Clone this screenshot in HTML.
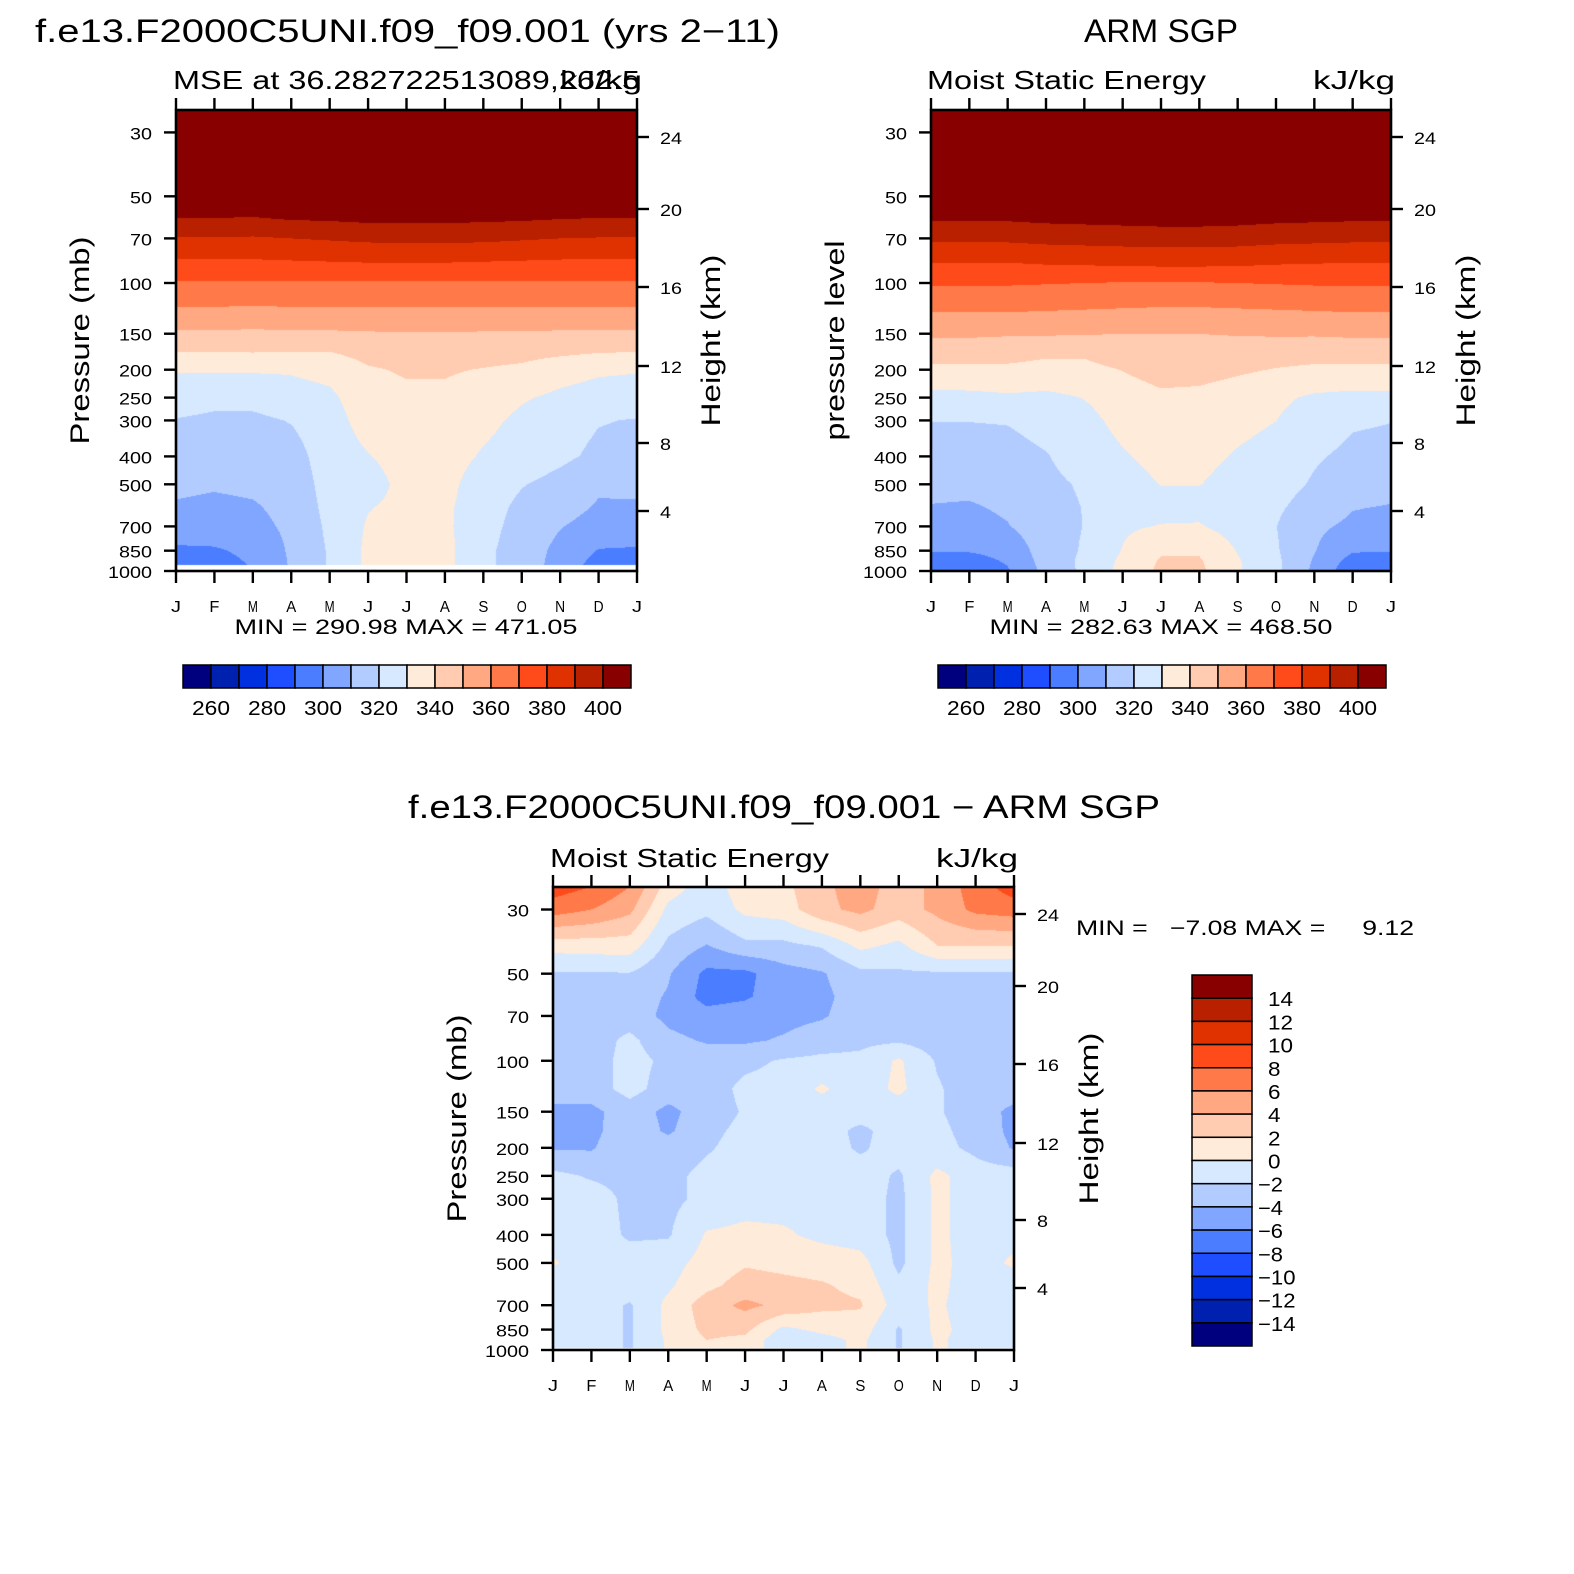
<!DOCTYPE html>
<html><head><meta charset="utf-8">
<style>
html,body{margin:0;padding:0;background:#fff;}
#root{position:relative;width:1574px;height:1574px;overflow:hidden;background:#fff;}
canvas{position:absolute;}
svg{position:absolute;left:0;top:0;}
text{font-family:"Liberation Sans",sans-serif;fill:#000;}
</style></head>
<body>
<div id="root">
<canvas id="c1" width="461" height="461" style="left:176px;top:110px"></canvas>
<canvas id="c2" width="460" height="461" style="left:931px;top:110px"></canvas>
<canvas id="c3" width="461" height="463" style="left:553px;top:887px"></canvas>
<svg id="s" width="1574" height="1574"></svg>
</div>
<script>
const pressureLevels=[25,30,40,50,60,70,85,100,125,150,175,200,250,300,400,500,600,700,850,925,1000];
const monthLabels=["J","F","M","A","M","J","J","A","S","O","N","D","J"];
const pressureTicks=[30,50,70,100,150,200,250,300,400,500,700,850,1000];
const heightTicks=["24","20","16","12","8","4"];
const fullColors=["#00007f","#0020b0","#0030e0","#1e4eff","#4a7dff","#80a6ff","#b2ccff","#d6e9ff","#ffebd9","#ffcbb1","#ffa882","#ff7a48","#ff4a1a","#e03200","#b82000","#880000"];
const fullBarLabels=["260","280","300","320","340","360","380","400"];
const diffBarLabels=["14","12","10","8","6","4","2","0","−2","−4","−6","−8","−10","−12","−14"];
const r13=v=>[v,v,v,v,v,v,v,v,v,v,v,v,v];
const modelGrid=[
r13(480),r13(455),r13(425),r13(410),
[399.5,399.5,399,400.5,401,402,402,402,401.5,401,400,399.5,399.5],
[389.5,389.5,389,390,391,392,392.5,392.5,392,391,390,389.5,389.5],
[378.5,378.5,378.5,379,379.5,380,380,380,379.5,379,378.5,378.5,378.5],
r13(369),
[358.5,358.5,358,358.5,358.5,358.5,358.5,358.5,358.5,358.5,358.5,358.5,358.5],
[348.5,348.5,348,348.5,348.5,349,349.5,349.5,349,349,348.5,348.5,348.5],
[339.5,339.6,339.8,339.3,339.5,343,345,345,344,343,341.5,340,339.5],
[330.8,330.8,331,331,333,339,341,341,339.5,338,334,331.5,330.8],
[325,323,323,326,328,336,338,338,335,331,328,326,325],
[319.5,318,318,320.5,326,334,336,336,332.5,328,324,320.5,319.5],
[315.5,314.5,315,316,325,329.5,334,334,329,325.5,322,318,317],
[312,311,312,314,324,326,333,333,325,320.5,317,311.5,312],
[309,308,309,313,323,329.5,332.5,332,324,318,314,309,309],
[305,305,307,312,322,331,332,332,323,317,310.5,306,305.5],
[298.5,299,302,311.5,321,332,333,333,322,316,307,299.5,299],
[296,297,301,311,321,332,333,333,322,316,306,297,296],
[294,295,300,311,321,332,333,333,322,316,305,295,294]];
const obsGrid=[
r13(480),r13(455),r13(425),r13(410),
[401,401,401,402,402.5,403,403.5,403.5,403,402,401.5,401,401],
[392,392,392,393,393.5,394,394.5,394.5,394,393,392.5,392,392],
[380,380,380,381,381.5,382,382.5,382.5,382,381,380.5,380,380],
[371,371,371,370.5,370,369.5,369.5,369.5,370,370.5,371,371,371],
[360.5,360.5,360.5,360,359.5,359,358.5,358.5,359,359.5,360,360.5,360.5],
[351.5,351.5,351,351,350.5,350,350,350,350.5,351,351,351.5,351.5],
[344.5,344.5,343.5,341.5,341.5,346,347.5,347.5,346,344.5,344,344.5,344.5],
[337.5,337.5,338,337,337,340.3,344,343.5,341.5,339.5,338,337.5,337.5],
[327,327.5,328.5,327.8,330.3,335,338,337.5,335,332,328.5,327.5,327.5],
[320.2,320.2,320.5,323,327,333,336,335.5,333,330.1,325,321,320.2],
[316.5,316,317,319.5,324,329,333,333,329,326,321,318,317.5],
[313,312.5,315,318,321,326,330.3,330.3,326,323.5,319,314.5,313],
[309.5,309,311.5,317,320.3,325,327,327,325,321.5,316,310.5,309.5],
[306.5,306.5,309.5,316,320.2,328.5,330.5,330.8,326,320.2,312,308,306.5],
[300.5,300.8,303,315,321,330.5,339,339,329.5,321,310.5,301,300.5],
[294,296,301,314,322,332,341,341,331,322,309,296,294],
[290.5,293,299,313,322,333,342,342,331,322,308,293,290.5]];
const diffGrid=[
[9,8,6,1,-1,1,1.5,3.5,5,3,4.5,7,9],
[7,6,4.5,-0.5,-1.5,0.5,1,3.5,4.5,3,4.5,6.5,7],
[0.8,1,1,-2.5,-4.1,-2.5,-2.5,-1.8,0.5,-0.5,2,2,2],
[-2.2,-2.2,-2.1,-3.8,-6.5,-6.5,-4.8,-4.2,-2.5,-2.3,-2.3,-2.3,-2.3],
[-3,-3,-3,-4.2,-6.8,-6.3,-4.8,-4.5,-3,-3,-3,-3,-3],
[-3,-3,-3,-4.5,-5.2,-4.8,-4.6,-4.2,-3,-3,-3,-3,-3],
[-3,-3,-1.5,-3.5,-4.2,-4.3,-3.8,-3,-2.5,-2.3,-3,-3,-3],
[-3,-3,-1.2,-2.5,-3,-2.5,-1.8,-1.5,-1.5,0.3,-2.2,-3,-3],
[-3,-3,-1.2,-3,-3,-1.5,-1.2,0.3,-1.2,0.5,-1.8,-3,-3],
[-4.5,-4.5,-3,-4.5,-3,-1.8,-1,-1,-1,-1.2,-1.8,-3,-4.5],
[-4.5,-4.5,-2.8,-4.3,-2.5,-1.5,-1,-1,-2.5,-1,-1.5,-2.8,-4.5],
[-4.2,-4.2,-2.5,-3,-2.2,-1.3,-1,-1,-2.3,-1,-1.3,-2.5,-4.2],
[-1.5,-2.2,-2.5,-2.5,-1.5,-1,-1,-1,-1,-2.3,0.5,-1,-1],
[-1,-1.2,-2.4,-2.5,-1.5,-0.8,-0.8,-0.8,-1,-2.5,0.5,-1,-1],
[-0.8,-1,-2.3,-2.2,0.2,0.5,0.3,-0.5,-1,-2.5,0.5,-1,-0.5],
[0.2,-1,-1,-0.8,0.8,1.8,1.5,1.2,0.8,-2.5,0.5,-0.8,0.3],
[-1,-1,-1,-0.3,1.5,2.8,2.5,2.2,1.5,-1.5,0.5,-1,-1],
[-1,-1,-2.2,0.5,3,4.5,3.5,2.5,2.2,-1,0.3,-1,-1],
[-1,-1,-2.2,0.5,2.5,2.5,-0.5,0.5,1,-2.2,0.5,-0.8,-1],
[-1,-1,-2.2,0.3,2,1.5,-1.5,-0.8,0.5,-2.2,0.3,-0.8,-1],
[-1,-1,-2.2,0.3,2,1.5,-1.5,-0.8,0.5,-2.2,0.3,-0.8,-1]];

const DEC=1.6007;
function hex(c){return [parseInt(c.substr(1,2),16),parseInt(c.substr(3,2),16),parseInt(c.substr(5,2),16)];}
const rgb=fullColors.map(hex);
function drawField(id,grid,idxFn,maxP){
  const cv=document.getElementById(id),w=cv.width,h=cv.height,ctx=cv.getContext('2d');
  const img=ctx.createImageData(w,h),d=img.data;
  const lp=pressureLevels.map(p=>Math.log10(p));
  const nc=grid[0].length-1;
  for(let py=0;py<h;py++){
    const l=3-DEC*(h-py-0.5)/h, p=Math.pow(10,l);
    let k=0; while(k<lp.length-2&&lp[k+1]<l)k++;
    let g=(l-lp[k])/(lp[k+1]-lp[k]); g=Math.max(0,Math.min(1,g));
    for(let px=0;px<w;px++){
      const o=(py*w+px)*4;
      if(p>maxP){d[o]=d[o+1]=d[o+2]=255;d[o+3]=255;continue;}
      const t=(px+0.5)/w*nc; let i=Math.min(nc-1,Math.floor(t)); const f=t-i;
      const a=grid[k][i]*(1-f)+grid[k][i+1]*f, b=grid[k+1][i]*(1-f)+grid[k+1][i+1]*f;
      const v=a*(1-g)+b*g;
      const c=rgb[idxFn(v)];
      d[o]=c[0];d[o+1]=c[1];d[o+2]=c[2];d[o+3]=255;
    }
  }
  ctx.putImageData(img,0,0);
}
const clamp=i=>Math.max(0,Math.min(15,i));
drawField('c1',modelGrid,v=>clamp(Math.floor((v-250)/10)),955);
drawField('c2',obsGrid,v=>clamp(Math.floor((v-250)/10)),1000);
drawField('c3',diffGrid,v=>clamp(Math.floor((v+16)/2)),985);

const S=document.getElementById('s'),NS='http://www.w3.org/2000/svg';
function el(tag,attrs,txt){const e=document.createElementNS(NS,tag);for(const k in attrs)e.setAttribute(k,attrs[k]);if(txt!==undefined)e.textContent=txt;S.appendChild(e);return e;}
function txt(x,y,s,size,anchor,name,rot,len){
  const a={x:x,y:y,'font-size':size,'text-anchor':anchor||'start'};
  if(rot)a.transform='rotate(-90 '+x+' '+y+')';
  if(len){a.textLength=len;a.lengthAdjust='spacingAndGlyphs';}
  const e=el('text',a,s);
  
  
  return e;
}
const heightOffsets=[27,99,177,256,333,401];
function axes(x0,y0,w,h,pfx,leftTitle,leftX,rightX,leftLen){
  const line=(x1,y1,x2,y2)=>el('line',{x1:x1,y1:y1,x2:x2,y2:y2,stroke:'#000','stroke-width':2.4});
  const b=el('rect',{x:x0,y:y0,width:w,height:h,fill:'none',stroke:'#000','stroke-width':2.6});
  
  
  monthLabels.forEach((m,i)=>{
    const x=x0+w*i/12;
    line(x,y0,x,y0-12);line(x,y0+h,x,y0+h+12);
    txt(x,y0+h+41,m,16,'middle',pfx+'-month-label',false,10);
  });
  pressureTicks.forEach(p=>{
    const y=y0+h-h*Math.log10(1000/p)/DEC;
    line(x0-12,y,x0,y);
    const s=String(p);
    txt(x0-24,y+7,s,17,'end',pfx+'-pressure-label',false,s.length*11);
  });
  heightTicks.forEach((s,i)=>{
    const y=y0+heightOffsets[i];
    line(x0+w,y,x0+w+12,y);
    txt(x0+w+23,y+7,s,17,'start',pfx+'-height-label',false,s.length*11);
  });
  txt(leftX,y0+h/2,leftTitle,27,'middle',pfx+'-y-axis-title',true,leftLen);
  txt(rightX,y0+h/2,'Height (km)',27,'middle',pfx+'-right-axis-title',true,172);
}
axes(176,110,461,461,'model','Pressure (mb)',89,720,208);
axes(931,110,460,461,'obs','pressure level',844,1475,200);
axes(553,887,461,463,'diff','Pressure (mb)',466,1098,208);

txt(35,42,'f.e13.F2000C5UNI.f09_f09.001 (yrs 2−11)',32,'start','model-title',false,745);
txt(173,89,'MSE at 36.282722513089,262.5',26,'start','model-subtitle',false,467);
txt(642,89,'kJ/kg',26,'end','model-units',false,82);
txt(406,634,'MIN = 290.98 MAX = 471.05',21,'middle','model-min-max',false,343);
txt(1161,42,'ARM SGP',32,'middle','obs-title',false,154);
txt(927,89,'Moist Static Energy',26,'start','obs-subtitle',false,279);
txt(1395,89,'kJ/kg',26,'end','obs-units',false,82);
txt(1161,634,'MIN = 282.63 MAX = 468.50',21,'middle','obs-min-max',false,343);
txt(784,818,'f.e13.F2000C5UNI.f09_f09.001 − ARM SGP',32,'middle','diff-title',false,752);
txt(550,867,'Moist Static Energy',26,'start','diff-subtitle',false,279);
txt(1018,867,'kJ/kg',26,'end','diff-units',false,82);
const mm=txt(1076,935,'MIN =   −7.08 MAX =     9.12',21,'start','diff-min-max',false,338);
mm.setAttribute('xml:space','preserve');
mm.style.whiteSpace='pre';

function hbar(x0,y0,w,h,pfx){
  const bw=w/fullColors.length;
  fullColors.forEach((c,i)=>{
    const r=el('rect',{x:x0+i*bw,y:y0,width:bw,height:h,fill:c,stroke:'#000','stroke-width':1.5});
    
    
  });
  fullBarLabels.forEach((s,i)=>{
    txt(x0+bw*(1+2*i),y0+h+27,s,20,'middle',pfx+'-colorbar-label',false,38);
  });
}
hbar(183,665,448,23,'model');
hbar(938,665,448,23,'obs');
(function(){
  const x0=1192,y0=975,w=60,h=371,bh=h/16;
  fullColors.slice().reverse().forEach((c,i)=>{
    const r=el('rect',{x:x0,y:y0+i*bh,width:w,height:bh,fill:c,stroke:'#000','stroke-width':1.5});
    
    
  });
  diffBarLabels.forEach((s,i)=>{
    const neg=s.charAt(0)==='−';
    txt(neg?1258:1268,y0+bh*(i+1)+8,s,20,'start','diff-colorbar-label',false,s.length*12.5);
  });
})();
</script>
</body></html>
